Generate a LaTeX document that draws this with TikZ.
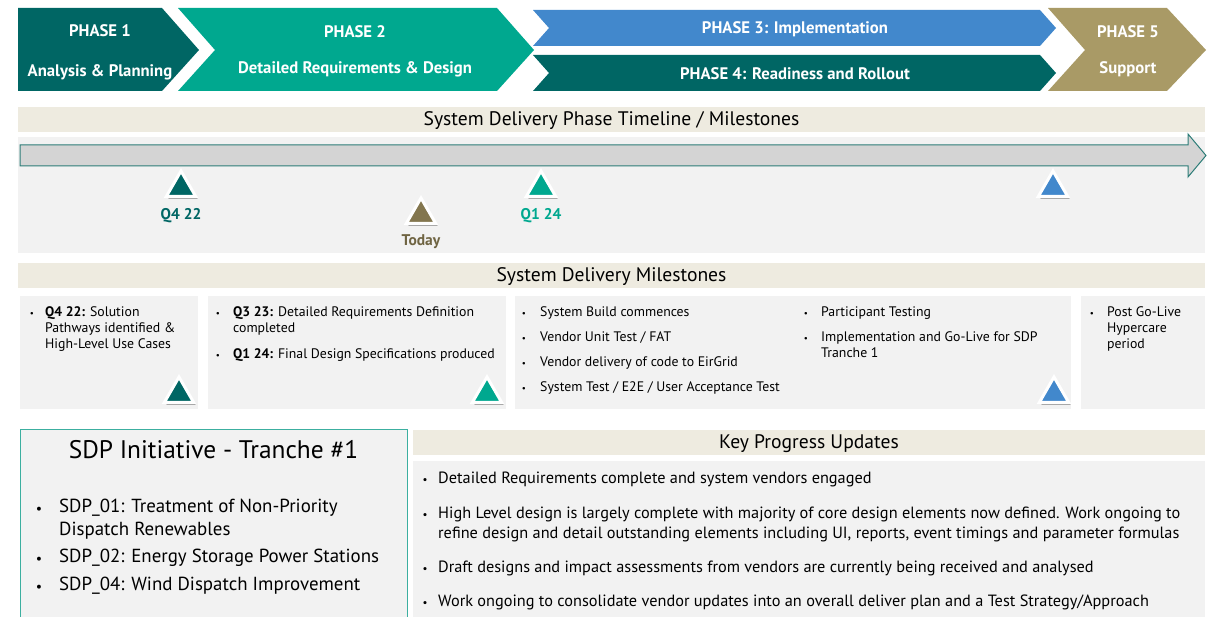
\documentclass[tikz,border=0pt]{standalone}
\usepackage{fontspec}
\setmainfont{PT Sans}
\usetikzlibrary{positioning,shapes.geometric,shadows}

\definecolor{tealdk}{RGB}{0,102,100}
\definecolor{tealgr}{RGB}{0,168,143}
\definecolor{phblue}{RGB}{66,136,204}
\definecolor{phtan}{RGB}{169,154,102}
\definecolor{olive}{RGB}{131,118,78}
\definecolor{hdrbg}{RGB}{238,235,224}
\definecolor{panelbg}{RGB}{242,242,242}
\definecolor{arrowbg}{RGB}{212,212,212}
\definecolor{arrowln}{RGB}{45,125,120}
\definecolor{boxln}{RGB}{60,175,160}

\begin{document}
\begin{tikzpicture}[x=1pt,y=-1pt,
  phtext/.style={text=white,inner sep=0,font=\fontsize{16.7}{20}\selectfont\bfseries},
  hdrtext/.style={inner sep=0,font=\fontsize{19.6}{22}\selectfont},
  mtext/.style={anchor=mid west,inner sep=0,font=\fontsize{13.8}{16}\selectfont},
  ktext/.style={anchor=mid west,inner sep=0,font=\fontsize{16.3}{18}\selectfont},
  stext/.style={anchor=mid west,inner sep=0,font=\fontsize{18.9}{21}\selectfont},
  bul/.style={inner sep=0,font=\fontsize{9}{10}\selectfont},
  mstone/.style={regular polygon,regular polygon sides=3,minimum size=34pt,inner sep=0,
    draw=white,line width=3pt,
    drop shadow={shadow xshift=2pt,shadow yshift=-2.5pt,opacity=0.3,fill=black}},
  qlabel/.style={inner sep=0,font=\fontsize{15.5}{17}\selectfont\bfseries}]
\useasboundingbox (0,0) rectangle (1211,617);

% phases
\fill[tealdk] (18,8) -- (162,8) -- (199,50) -- (162,91) -- (18,91) -- cycle;
\fill[tealgr] (178,8) -- (497,8) -- (534,50) -- (497,91) -- (178,91) -- (215,50) -- cycle;
\fill[phblue] (533,10) -- (1040,10) -- (1056,28) -- (1040,46) -- (533,46) -- (549,28) -- cycle;
\fill[tealdk] (533,55) -- (1040,55) -- (1056,73) -- (1040,91) -- (533,91) -- (549,73) -- cycle;
\fill[phtan] (1048,8) -- (1167,8) -- (1206,50) -- (1167,91) -- (1048,91) -- (1085,50) -- cycle;
\node[phtext] (p1a) at (100,31) {PHASE 1};
\node[phtext] (p1b) at (100,72) {Analysis \& Planning};
\node[phtext] (p2a) at (355,32) {PHASE 2};
\node[phtext] (p2b) at (355,69) {Detailed Requirements \& Design};
\node[phtext] (p3) at (795,29) {PHASE 3: Implementation};
\node[phtext] (p4) at (795,74) {PHASE 4: Readiness and Rollout};
\node[phtext] (p5a) at (1128,32) {PHASE 5};
\node[phtext] (p5b) at (1128,69) {Support};

% timeline
\fill[hdrbg] (18,107) rectangle (1205,132);
\node[hdrtext] (hdrtl) at (611.5,121) {System Delivery Phase Timeline / Milestones};
\fill[panelbg] (18,137) rectangle (1205,253);
\draw[arrowln,fill=arrowbg,line width=1pt] (20,145) -- (1188,145) -- (1188,134) -- (1206,155.5)
  -- (1188,177) -- (1188,166) -- (20,166) -- cycle;
\node[mstone,fill=tealdk] (mq4) at (181,188) {};
\node[mstone,fill=olive] (mtoday) at (421,215) {};
\node[mstone,fill=tealgr] (mq1) at (541,188) {};
\node[mstone,fill=phblue] (mgo) at (1053,188) {};
\node[qlabel,text=tealdk,below=10pt of mq4] (lq4) {Q4 22};
\node[qlabel,text=olive!85!black,below=9pt of mtoday] (ltoday) {Today};
\node[qlabel,text=tealgr,below=10pt of mq1] (lq1) {Q1 24};

% milestones
\fill[hdrbg] (18,263) rectangle (1205,288);
\node[hdrtext] (hdrms) at (611.5,277) {System Delivery Milestones};
\fill[panelbg] (20,296) rectangle (198,409);
\fill[panelbg] (208,296) rectangle (506,409);
\fill[panelbg] (515,296) rectangle (1071,409);
\fill[panelbg] (1081,296) rectangle (1205,409);

\node[bul] (b11) at (32,314) {\textbullet};
\node[mtext] (t11) at (45,314) {\textbf{Q4 22:} Solution};
\node[mtext] (t12) at (45,330) {Pathways identified \&};
\node[mtext] (t13) at (45,346) {High-Level Use Cases};
\node[bul] (b21) at (218,314) {\textbullet};
\node[mtext] (t21) at (233,314) {\textbf{Q3 23:} Detailed Requirements Definition};
\node[mtext] (t22) at (233,330) {completed};
\node[bul] (b22) at (218,356) {\textbullet};
\node[mtext] (t23) at (233,356) {\textbf{Q1 24:} Final Design Specifications produced};
\node[bul] (b31) at (524,314) {\textbullet};
\node[mtext] (t31) at (540,314) {System Build commences};
\node[bul] (b32) at (524,339) {\textbullet};
\node[mtext] (t32) at (540,339) {Vendor Unit Test / FAT};
\node[bul] (b33) at (524,364) {\textbullet};
\node[mtext] (t33) at (540,364) {Vendor delivery of code to EirGrid};
\node[bul] (b34) at (524,389) {\textbullet};
\node[mtext] (t34) at (540,389) {System Test / E2E / User Acceptance Test};
\node[bul] (b35) at (806,314) {\textbullet};
\node[mtext] (t35) at (821,314) {Participant Testing};
\node[bul] (b36) at (806,339) {\textbullet};
\node[mtext] (t36) at (821,339) {Implementation and Go-Live for SDP};
\node[mtext] (t37) at (821,355) {Tranche 1};
\node[bul] (b41) at (1092,314) {\textbullet};
\node[mtext] (t41) at (1107,314) {Post Go-Live};
\node[mtext] (t42) at (1107,330) {Hypercare};
\node[mtext] (t43) at (1107,346) {period};

\node[mstone,fill=tealdk] (mb1) at (179,394) {};
\node[mstone,fill=tealgr] (mb2) at (487,394) {};
\node[mstone,fill=phblue] (mb3) at (1054,394) {};

% tranche
\fill[panelbg] (20,430) rectangle (407,617);
\draw[boxln,line width=1pt] (20,617) -- (20,430) -- (407,430) -- (407,617);
\node[inner sep=0,font=\fontsize{25.4}{28}\selectfont] (sdp) at (213.5,450) {SDP Initiative - Tranche \#1};
\node[bul,font=\fontsize{14}{16}\selectfont] (s1) at (39,510) {\textbullet};
\node[stext] (s1a) at (59,510) {SDP\_01: Treatment of Non-Priority};
\node[stext] (s1b) at (59,533) {Dispatch Renewables};
\node[bul,font=\fontsize{14}{16}\selectfont] (s2) at (39,560) {\textbullet};
\node[stext] (s2a) at (59,560) {SDP\_02: Energy Storage Power Stations};
\node[bul,font=\fontsize{14}{16}\selectfont] (s3) at (39,588) {\textbullet};
\node[stext] (s3a) at (59,588) {SDP\_04: Wind Dispatch Improvement};

% progress
\fill[hdrbg] (413,430) rectangle (1205,455);
\node[hdrtext] (hdrkp) at (809,444) {Key Progress Updates};
\fill[panelbg] (413,461) rectangle (1205,617);
\node[bul,font=\fontsize{11}{12}\selectfont] (k1) at (425,481) {\textbullet};
\node[ktext] (k1a) at (438,481) {Detailed Requirements complete and system vendors engaged};
\node[bul,font=\fontsize{11}{12}\selectfont] (k2) at (425,516) {\textbullet};
\node[ktext] (k2a) at (438,516) {High Level design is largely complete with majority of core design elements now defined. Work ongoing to};
\node[ktext] (k2b) at (438,536) {refine design and detail outstanding elements including UI, reports, event timings and parameter formulas};
\node[bul,font=\fontsize{11}{12}\selectfont] (k3) at (425,570) {\textbullet};
\node[ktext] (k3a) at (438,570) {Draft designs and impact assessments from vendors are currently being received and analysed};
\node[bul,font=\fontsize{11}{12}\selectfont] (k4) at (425,604) {\textbullet};
\node[ktext] (k4a) at (438,604) {Work ongoing to consolidate vendor updates into an overall deliver plan and a Test Strategy/Approach};
\end{tikzpicture}
\end{document}
